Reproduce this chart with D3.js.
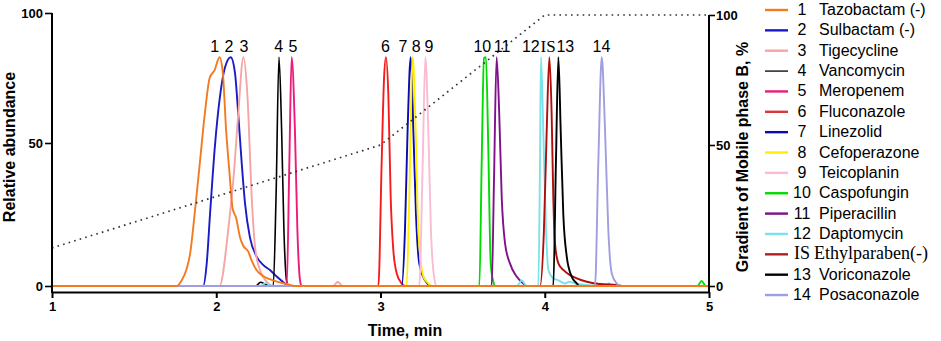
<!DOCTYPE html>
<html><head><meta charset="utf-8">
<script src="https://cdn.jsdelivr.net/npm/d3@7/dist/d3.min.js"></script>
<style>
html,body{margin:0;padding:0;background:#fff;}
svg{display:block;}
</style></head>
<body>
<svg id="c" width="941" height="341"></svg>
<script>
// ---------- data (time in min, relative abundance) ----------
const timeTicks = [1, 2, 3, 4, 5];
const leftTicks = [0, 50, 100];
const rightTicks = [0, 50, 100];

const tazobactam = [[1,0],[1.76,0],[1.79,2],[1.82,6],[1.84,11],[1.87,26],[1.90,43],[1.93,61],[1.96,75],[1.99,78],[2.02,83],[2.04,77],[2.06,55],[2.08,40],[2.10,27],[2.12,24],[2.145,17],[2.165,14],[2.195,12],[2.215,9],[2.245,5.6],[2.29,3.3],[2.33,2.3],[2.37,1.5],[2.43,0.7],[2.48,0],[5,0]];
const sulbactam = [[1,0],[1.92,0],[1.942,7.9],[1.962,25],[1.992,49],[2.023,68],[2.053,79],[2.088,83],[2.114,77],[2.134,61],[2.155,43],[2.175,29],[2.205,17],[2.246,10.3],[2.287,7.3],[2.327,5.6],[2.368,3.3],[2.418,0.9],[2.44,0],[5,0]];
const tigecycline = [[1,0],[2.02,0],[2.073,19.6],[2.104,37],[2.134,61],[2.165,83],[2.19,68],[2.216,31],[2.236,13.7],[2.266,5.6],[2.307,1.5],[2.34,0],[2.71,0],[2.74,1.4],[2.77,0],[5,0]];
const vancomycin = [[1,0],[2.24,0],[2.27,1.3],[2.30,0.6],[2.347,0],[2.364,31],[2.382,83],[2.398,55],[2.412,19.6],[2.429,1.5],[2.44,0],[5,0]];
const meropenem = [[1,0],[2.429,0],[2.445,43],[2.459,83],[2.479,55],[2.494,19.6],[2.51,2],[2.52,0],[5,0]];
const fluconazole = [[1,0],[2.987,0],[3.007,43],[3.021,74],[3.033,83],[3.048,68],[3.062,31],[3.078,12.6],[3.099,4.4],[3.129,0.9],[3.15,0],[5,0]];
const linezolid = [[1,0],[3.129,0],[3.149,19.6],[3.165,55],[3.184,83],[3.20,55],[3.216,25],[3.236,7.9],[3.271,2],[3.312,0],[5,0]];
const cefoperazone = [[1,0],[3.159,0],[3.175,31],[3.196,83],[3.214,55],[3.23,19.6],[3.261,3.3],[3.291,0.9],[3.31,0],[5,0]];
const teicoplanin = [[1,0],[3.236,0],[3.257,43],[3.273,83],[3.291,55],[3.307,19.6],[3.326,3.3],[3.342,0],[5,0]];
const caspofungin = [[1,0],[3.602,0],[3.616,43],[3.63,82.6],[3.642,83],[3.656,49],[3.671,7.9],[3.687,1.5],[3.70,0],[4.93,0],[4.955,1.8],[4.98,0],[5,0]];
const piperacillin = [[1,0],[3.677,0],[3.691,37],[3.707,83],[3.723,61],[3.738,31],[3.758,15],[3.788,7.9],[3.829,3.3],[3.869,0.9],[3.89,0],[5,0]];
const daptomycin = [[1,0],[2.27,0],[2.30,1],[2.34,0],[3.83,0],[3.86,1.9],[3.89,0],[3.961,0],[3.971,43],[3.977,83],[3.991,55],[4.008,19.6],[4.022,5.6],[4.052,2.7],[4.083,2],[4.123,0.9],[4.15,1.5],[4.19,0.8],[4.37,0],[4.39,1],[4.41,0],[5,0]];
const ethylparaben = [[1,0],[3.971,0],[3.995,19.6],[4.012,55],[4.028,83],[4.042,61],[4.052,31],[4.062,15],[4.083,7.9],[4.113,5.6],[4.154,3.8],[4.195,2.7],[4.256,1.5],[4.336,0.7],[4.44,0.3],[4.47,0],[5,0]];
const voriconazole = [[1,0],[4.052,0],[4.068,43],[4.083,83],[4.097,55],[4.113,25],[4.134,10.3],[4.164,3.3],[4.195,0.9],[4.21,0],[5,0]];
const posaconazole = [[1,0],[4.306,0],[4.326,43],[4.347,83],[4.367,55],[4.387,19.6],[4.408,4.4],[4.438,0.9],[4.46,0],[5,0]];

// gradient of mobile phase B (%)
const gradientTime = [1, 3, 4, 5];
const gradientB = [13.5, 50, 100, 100];

// legend / peak labels
const peakNumbers = ["1","2","3","4","5","6","7","8","9","10","11","12","IS","13","14"];
const compoundNames = ["Tazobactam (-)","Sulbactam (-)","Tigecycline","Vancomycin","Meropenem","Fluconazole","Linezolid","Cefoperazone","Teicoplanin","Caspofungin","Piperacillin","Daptomycin","Ethylparaben(-)","Voriconazole","Posaconazole"];
const labelTimes = [1.99, 2.078, 2.169, 2.38, 2.467, 3.03, 3.137, 3.218, 3.295, 3.62, 3.74, 3.915, 4.02, 4.125, 4.345];
const seriesList = [tazobactam, sulbactam, tigecycline, vancomycin, meropenem, fluconazole, linezolid, cefoperazone, teicoplanin, caspofungin, piperacillin, daptomycin, ethylparaben, voriconazole, posaconazole];
const colors = ["#f47a20","#1a1ac8","#f5a5a5","#000000","#ec1c78","#f51c1c","#0a0ab0","#ffee00","#f9bcd4","#00dc00","#80108c","#7ae2ea","#b00d0d","#000000","#a09ee0"];
const legendColors = ["#f47a20","#1a1ac8","#f5a5a5","#000000","#ec1c78","#d83838","#0a0ab0","#ffee00","#f9bcd4","#00dc00","#80108c","#7ae2ea","#b02020","#000000","#a09ee0"];

// ---------- drawing ----------
const svg = d3.select("#c");
const x = d3.scaleLinear().domain([1, 5]).range([52, 709]);
const yL = d3.scaleLinear().domain([0, 50, 100]).range([286, 143, 13]);
const yR = d3.scaleLinear().domain([0, 50, 100]).range([286, 145, 15]);

const line = d3.line().x(d => x(d[0])).y(d => yL(d[1])).curve(d3.curveMonotoneX);

// draw series (orange last so its baseline is on top)
const order = d3.range(1, seriesList.length).concat([0]);
order.forEach(i => {
  svg.append("path")
    .datum(seriesList[i])
    .attr("d", line)
    .attr("fill", "none")
    .attr("stroke", colors[i])
    .attr("stroke-width", i === 3 ? 1.6 : 1.9)
    .attr("stroke-linejoin", "round");
});

// gradient dotted line
const gradData = gradientTime.map((t, i) => [t, gradientB[i]]);
svg.append("path")
  .datum(gradData)
  .attr("d", d3.line().x(d => x(d[0])).y(d => yR(d[1])))
  .attr("fill", "none")
  .attr("stroke", "#333")
  .attr("stroke-width", 1.7)
  .attr("stroke-dasharray", "1.6,4.2");

// axes
const axisFont = g => g.selectAll("text")
  .attr("font-family", "Liberation Sans, Arial, sans-serif")
  .attr("font-weight", "bold")
  .attr("font-size", 13)
  .attr("fill", "#000");

const gx = svg.append("g").attr("transform", "translate(0,292)")
  .call(d3.axisBottom(x).tickValues(timeTicks).tickFormat(d3.format("d")).tickSize(6).tickSizeOuter(0).tickPadding(4));
gx.call(axisFont);
gx.select(".domain").attr("stroke-width", 2);
gx.selectAll(".tick line").attr("stroke-width", 2);

const gl = svg.append("g").attr("transform", "translate(52,0)")
  .call(d3.axisLeft(yL).tickValues(leftTicks).tickSize(7).tickSizeOuter(0).tickPadding(2));
gl.call(axisFont);
gl.select(".domain").remove();
gl.selectAll(".tick line").attr("stroke-width", 1.6);
svg.append("line").attr("x1", 52).attr("x2", 52).attr("y1", 13).attr("y2", 293)
  .attr("stroke", "#000").attr("stroke-width", 2);

const gr = svg.append("g").attr("transform", "translate(709,0)")
  .call(d3.axisRight(yR).tickValues(rightTicks).tickSize(6).tickSizeOuter(0).tickPadding(1));
gr.call(axisFont);
gr.select(".domain").remove();
gr.selectAll(".tick line").attr("stroke-width", 1.6);
svg.append("line").attr("x1", 709).attr("x2", 709).attr("y1", 15).attr("y2", 293)
  .attr("stroke", "#000").attr("stroke-width", 2);

// axis titles
svg.append("text").attr("x", 405).attr("y", 336)
  .attr("text-anchor", "middle").attr("font-family", "Liberation Sans, Arial, sans-serif")
  .attr("font-weight", "bold").attr("font-size", 16).text("Time, min");
svg.append("text").attr("transform", "translate(15,147) rotate(-90)")
  .attr("text-anchor", "middle").attr("font-family", "Liberation Sans, Arial, sans-serif")
  .attr("font-weight", "bold").attr("font-size", 16).text("Relative abundance");
svg.append("text").attr("transform", "translate(748,157) rotate(-90)")
  .attr("text-anchor", "middle").attr("font-family", "Liberation Sans, Arial, sans-serif")
  .attr("font-weight", "bold").attr("font-size", 16).text("Gradient of Mobile phase B, %");

// peak labels
svg.append("g").selectAll("text").data(peakNumbers).join("text")
  .attr("x", (d, i) => x(labelTimes[i]))
  .attr("y", 52)
  .attr("text-anchor", "middle")
  .attr("font-family", d => d === "IS" ? "Liberation Serif, Times New Roman, serif" : "Liberation Sans, Arial, sans-serif")
  .attr("font-size", d => d === "IS" ? 17 : 16)
  .text(d => d);

// legend
const leg = svg.append("g");
const rowY = i => 15 + i * 20.36;
peakNumbers.forEach((num, i) => {
  const serif = num === "IS";
  leg.append("line").attr("x1", 765).attr("x2", 788)
    .attr("y1", rowY(i) - 5).attr("y2", rowY(i) - 5)
    .attr("stroke", legendColors[i]).attr("stroke-width", i === 3 ? 1.3 : 2.4);
  leg.append("text").attr("x", 802).attr("y", rowY(i))
    .attr("text-anchor", "middle")
    .attr("font-family", serif ? "Liberation Serif, Times New Roman, serif" : "Liberation Sans, Arial, sans-serif")
    .attr("font-size", serif ? 18 : 16).text(num);
  leg.append("text").attr("x", serif ? 814 : 819).attr("y", rowY(i))
    .attr("font-family", serif ? "Liberation Serif, Times New Roman, serif" : "Liberation Sans, Arial, sans-serif")
    .attr("font-size", serif ? 18 : 16).text(compoundNames[i]);
});
</script>
</body></html>
